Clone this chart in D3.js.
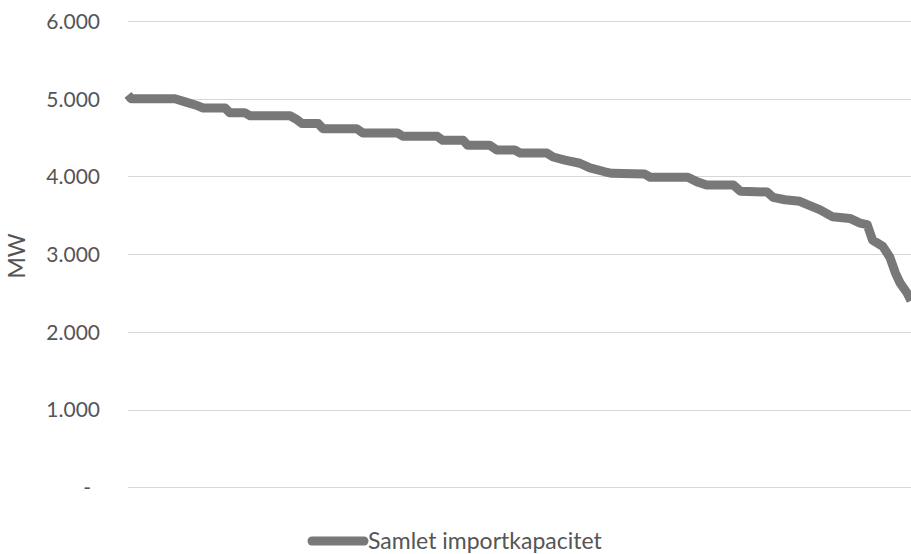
<!DOCTYPE html>
<html>
<head>
<meta charset="utf-8">
<script src="https://cdn.jsdelivr.net/npm/d3@7"></script>
<style>
  html, body { margin: 0; padding: 0; background: #fff; }
  svg { display: block; }
</style>
</head>
<body>
<svg id="chart" width="911" height="554"></svg>
<script>
// Share of hours (%) sorted by capacity, and the total import capacity (MW)
const hourShare = [0, 0.4, 6.0, 7.3, 8.6, 9.6, 12.4, 13.0, 14.9, 15.6, 20.7, 21.6, 22.2, 24.3, 24.9,
  29.2, 30.0, 34.4, 35.1, 39.5, 40.2, 42.8, 43.4, 46.2, 47.1, 49.4, 50.1, 53.5, 54.3, 55.8,
  57.7, 59.0, 60.9, 61.8, 66.0, 66.7, 71.5, 72.7, 73.9, 77.3, 78.2, 81.6, 82.4, 83.9, 85.8,
  86.7, 88.4, 90.0, 92.2, 93.5, 94.4, 95.1, 96.4, 97.3, 98.0, 98.6, 99.5, 100];
const capacityMW = [5050, 5000, 5000, 4960, 4920, 4880, 4880, 4820, 4820, 4780, 4780, 4730, 4680, 4680, 4615,
  4615, 4560, 4560, 4517, 4517, 4465, 4465, 4400, 4400, 4340, 4340, 4300, 4300, 4250, 4210,
  4170, 4110, 4060, 4040, 4030, 3990, 3990, 3930, 3890, 3890, 3810, 3800, 3730, 3700, 3680,
  3640, 3570, 3480, 3460, 3400, 3380, 3180, 3100, 2960, 2760, 2630, 2500, 2400];
const yTicks = [0, 1000, 2000, 3000, 4000, 5000, 6000];
const yTickLabels = ["-", "1.000", "2.000", "3.000", "4.000", "5.000", "6.000"];
const seriesName = "Samlet importkapacitet";
const yAxisTitle = "MW";

const svg = d3.select("#chart");
const font = "Lato, 'Open Sans', sans-serif";
const textColor = "#555555";
const lineColor = "#787878";

const x = d3.scaleLinear().domain([0, 100]).range([128, 911]);
const y = d3.scaleLinear().domain([0, 6000]).range([487.3, 21]);

// horizontal gridlines
svg.append("g")
  .selectAll("line")
  .data(yTicks)
  .join("line")
  .attr("x1", x(0))
  .attr("x2", x(100))
  .attr("y1", d => Math.round(y(d)) + 0.5)
  .attr("y2", d => Math.round(y(d)) + 0.5)
  .attr("stroke", "#dcd6d3")
  .attr("stroke-width", 1.2);

// y axis tick labels
const yAxis = d3.axisLeft(y)
  .tickValues(yTicks)
  .tickFormat((d, i) => yTickLabels[i])
  .tickSize(0)
  .tickPadding(0);
const gy = svg.append("g").attr("transform", "translate(100,0)").call(yAxis);
gy.select(".domain").remove();
gy.selectAll("text")
  .attr("font-family", font)
  .attr("font-size", 21)
  .attr("fill", textColor)
  .attr("dy", "0.35em");
gy.selectAll(".tick").filter(d => d === 0).select("text").attr("dx", -9);

// y axis title
svg.append("text")
  .attr("transform", "translate(17,256) rotate(-90)")
  .attr("text-anchor", "middle")
  .attr("dy", "0.35em")
  .attr("font-family", font)
  .attr("font-size", 23)
  .attr("fill", textColor)
  .text(yAxisTitle);

// capacity duration curve
const points = hourShare.map((h, i) => [h, capacityMW[i]]);
svg.append("path")
  .datum(points)
  .attr("fill", "none")
  .attr("stroke", lineColor)
  .attr("stroke-width", 9)
  .attr("stroke-linejoin", "round")
  .attr("d", d3.line().x(d => x(d[0])).y(d => y(d[1])));

// legend
const lg = svg.append("g").attr("transform", "translate(0,541)");
lg.append("line")
  .attr("x1", 312).attr("x2", 364)
  .attr("y1", 0).attr("y2", 0)
  .attr("stroke", lineColor)
  .attr("stroke-width", 9)
  .attr("stroke-linecap", "round");
lg.append("text")
  .attr("x", 368)
  .attr("y", 0)
  .attr("dy", "0.35em")
  .attr("font-family", font)
  .attr("font-size", 23)
  .attr("fill", textColor)
  .text(seriesName);
</script>
</body>
</html>
